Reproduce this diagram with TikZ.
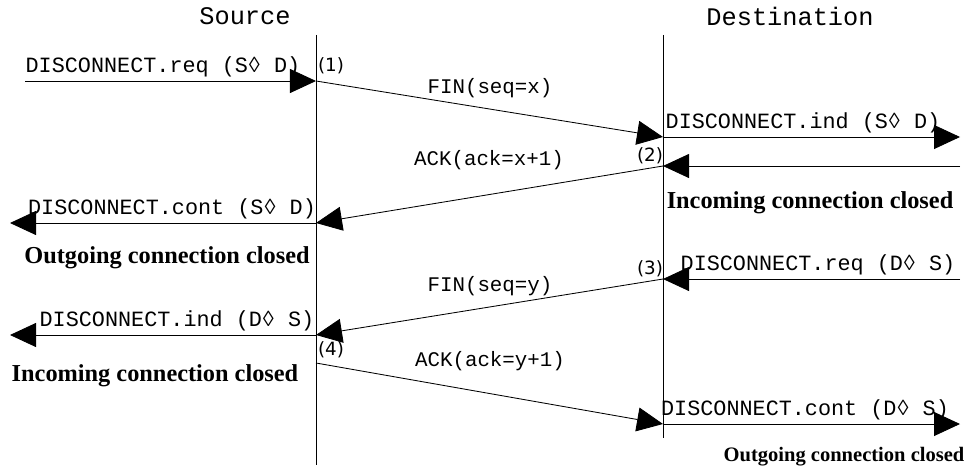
\documentclass[tikz,border=0pt]{standalone}
\usepackage{fontspec}
\setmainfont{Liberation Serif}
\setmonofont{Liberation Mono}
\setsansfont{DejaVu Sans}
\usetikzlibrary{arrows.meta,positioning,calc}

\begin{document}
\begin{tikzpicture}[x=0.025cm,y=-0.025cm,
    >={Triangle[length=0.65cm,width=0.6cm]},
    line/.style={line width=0.6pt},
    prim/.style={font=\ttfamily\fontsize{15.5}{17}\selectfont, inner sep=1pt, anchor=south},
    msg/.style={font=\ttfamily\fontsize{14.8}{16}\selectfont, inner sep=1pt},
    note/.style={font=\rmfamily\bfseries\fontsize{17.3}{19}\selectfont, inner sep=1pt},
    num/.style={font=\sffamily\fontsize{13}{14}\selectfont, inner sep=1pt},
    head/.style={font=\ttfamily\fontsize{18}{20}\selectfont}]
                \useasboundingbox (0,0) rectangle (970,473);
                % lifelines
                \coordinate (stop) at (316,35);
                \coordinate (sbot) at (316,465);
                \coordinate (dtop) at (663,35);
                \coordinate (dbot) at (663,438);
                \draw [line] (stop) -- (sbot);
                \draw [line] (dtop) -- (dbot);
                \node [head] (src) at (245,16) {Source};
                \node [head] (dst) at (790,16) {Destination};
                % points on the lifelines
                \coordinate (s1) at (316,81);
                \coordinate (s2) at (316,223);
                \coordinate (s3) at (316,335);
                \coordinate (s4) at (316,363);
                \coordinate (d1) at (663,137);
                \coordinate (d2) at (663,166);
                \coordinate (d3) at (663,279);
                \coordinate (d4) at (663,424);
                % outer ends
                \coordinate (a1) at (25,81);
                \coordinate (a2) at (10,223);
                \coordinate (a3) at (10,335);
                \coordinate (b1) at (960,137);
                \coordinate (b2) at (960,166);
                \coordinate (b3) at (960,279);
                \coordinate (b4) at (960,424);
                % first close
                \draw [line,->] (a1) -- (s1);
                \node [prim] (req1) at (163,79) {DISCONNECT.req (S◊ D)};
                \node [num] (n1) at (331,66) {(1)};
                \draw [line,->] (s1) -- (d1);
                \node [msg] (fin1) at (490,88) {FIN(seq=x)};
                \draw [line,->] (d1) -- (b1);
                \node [prim] (ind1) at (803,135) {DISCONNECT.ind (S◊ D)};
                \node [num] (n2) at (650,156) {(2)};
                \draw [line,->] (b2) -- (d2);
                \draw [line,->] (d2) -- (s2);
                \node [msg] (ack1) at (489,160) {ACK(ack=x+1)};
                \node [note] (inc1) at (810,203) {Incoming connection closed};
                \draw [line,->] (s2) -- (a2);
                \node [prim] (cnf1) at (172,221) {DISCONNECT.cont (S◊ D)};
                \node [note] (out1) at (167,258) {Outgoing connection closed};
                % second close
                \draw [line,->] (b3) -- (d3);
                \node [prim] (req2) at (818,277) {DISCONNECT.req (D◊ S)};
                \node [num] (n3) at (650,269) {(3)};
                \draw [line,->] (d3) -- (s3);
                \node [msg] (fin2) at (490,286) {FIN(seq=y)};
                \draw [line,->] (s3) -- (a3);
                \node [prim] (ind2) at (177,333) {DISCONNECT.ind (D◊ S)};
                \node [num] (n4) at (331,350) {(4)};
                \node [note] (inc2) at (155,376) {Incoming connection closed};
                \draw [line,->] (s4) -- (d4);
                \node [msg] (ack2) at (490,361) {ACK(ack=y+1)};
                \draw [line,->] (d4) -- (b4);
                \node [prim] (cnf2) at (805,422) {DISCONNECT.cont (D◊ S)};
                \node [note,font=\rmfamily\bfseries\fontsize{14.6}{16}\selectfont] (out2) at (844,457) {Outgoing connection closed};
            \end{tikzpicture}
\end{document}
